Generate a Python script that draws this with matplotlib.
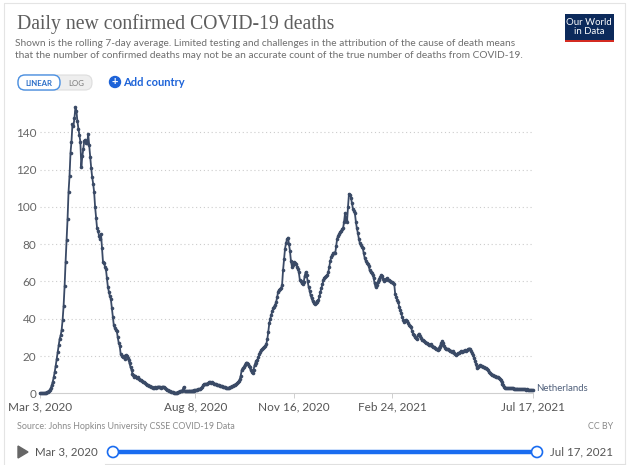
import numpy as np
import matplotlib
matplotlib.use("Agg")
import matplotlib.pyplot as plt
import matplotlib.dates as mdates
from matplotlib.patches import FancyBboxPatch, Rectangle, Circle, Polygon
import datetime as dt

plt.rcParams['font.family'] = ['Lato', 'DejaVu Sans']

# daily values, Mar 3 2020 .. Jul 17 2021 (rolling 7-day average), one row per week
deaths = [
    0, 0, 0, 0, 0.1, 0.3, 0.4,
    0.6, 0.9, 1.3, 1.9, 2.9, 4.4, 6.3,
    8.7, 11.6, 14.9, 18.6, 22.0, 26.1, 29.3,
    31.0, 34.0, 39.5, 47.0, 57.5, 70.5, 82.0,
    93.5, 108.0, 116.5, 129.0, 135.0, 144.5, 143.5,
    147.5, 153.5, 151.5, 146.0, 142.0, 138.5, 135.0,
    121.5, 127.0, 131.0, 135.5, 136.0, 134.0, 134.5,
    139.0, 133.0, 126.5, 121.0, 116.0, 112.5, 108.0,
    100.0, 94.0, 88.5, 87.0, 84.5, 82.5, 85.5,
    78.0, 70.5, 70.0, 68.0, 66.5, 62.0, 57.0,
    54.5, 52.0, 50.5, 46.0, 41.0, 36.5, 35.0,
    34.0, 33.5, 30.0, 27.0, 25.5, 21.0, 20.0,
    19.5, 19.8, 18.5, 20.5, 20.0, 19.0, 18.0,
    16.0, 14.0, 12.5, 10.5, 9.8, 9.0, 9.5,
    8.5, 8.0, 8.5, 7.5, 7.0, 7.2, 6.5,
    6.0, 5.8, 5.5, 5.0, 4.7, 4.4, 4.0,
    3.8, 3.5, 3.2, 3.0, 3.1, 3.3, 3.0,
    3.2, 3.5, 3.6, 3.4, 3.1, 3.3, 3.6,
    3.4, 3.0, 2.5, 2.0, 1.7, 1.4, 1.1,
    0.9, 0.7, 0.5, 0.4, 0.3, 0.3, 0.4,
    0.6, 0.9, 1.0, 1.1, 1.3, 2.0, 3.4,
    1.5, 1.0, 1.1, 1.3, 1.2, 1.4, 1.3,
    1.4, 1.5, 1.6, 1.5, 1.7, 1.9, 2.0,
    2.1, 2.3, 2.4, 2.8, 3.5, 4.5, 5.0,
    4.8, 5.2, 5.0, 5.5, 5.8, 6.0, 5.7,
    5.9, 5.5, 5.2, 5.0, 4.8, 4.6, 4.4,
    4.3, 4.1, 4.0, 3.8, 3.6, 3.4, 3.3,
    3.1, 3.0, 2.8, 3.0, 3.3, 3.5, 3.8,
    4.0, 4.3, 4.6, 5.0, 5.3, 5.8, 6.5,
    7.5, 9.5, 12.5, 13.5, 14.0, 15.0, 16.0,
    16.5, 15.5, 14.8, 14.0, 12.5, 11.5, 11.0,
    12.5, 15.0, 16.5, 17.5, 18.0, 19.5, 21.0,
    22.0, 23.0, 23.8, 24.5, 25.0, 25.5, 26.5,
    29.0, 33.0, 37.5, 40.0, 42.0, 44.0, 45.5,
    46.5, 47.5, 49.0, 51.5, 54.5, 55.5, 56.0,
    56.5, 58.0, 66.0, 72.0, 77.5, 80.5, 82.5,
    83.5, 80.0, 76.5, 71.0, 68.0, 69.0, 70.5,
    70.0, 69.5, 68.0, 66.5, 65.0, 61.0, 60.0,
    59.0, 58.5, 59.5, 63.0, 65.0, 63.5, 60.0,
    57.0, 55.0, 52.5, 51.0, 49.5, 48.5, 48.0,
    48.5, 49.0, 49.5, 50.0, 52.0, 54.5, 56.5,
    58.5, 60.5, 62.0, 62.5, 63.0, 63.5, 65.0,
    68.0, 71.0, 73.0, 74.0, 75.0, 75.5, 75.0,
    79.0, 83.0, 84.5, 85.5, 86.5, 87.0, 88.0,
    88.5, 92.0, 96.5, 93.0, 92.0, 100.0, 107.0,
    106.5, 105.0, 102.0, 99.0, 98.0, 96.5, 92.0,
    88.5, 86.0, 83.0, 80.5, 79.5, 78.5, 78.0,
    75.0, 72.5, 71.0, 70.0, 69.5, 68.5, 66.0,
    65.0, 64.5, 63.5, 62.0, 59.0, 57.0, 58.0,
    59.5, 60.5, 61.5, 62.5, 63.5, 63.0, 61.5,
    60.0, 60.5, 61.5, 61.8, 61.0, 60.5, 60.0,
    59.5, 59.5, 59.0, 58.5, 53.0, 51.5, 50.0,
    49.0, 46.5, 44.5, 43.0, 41.0, 39.5, 38.5,
    39.0, 39.5, 39.0, 37.5, 36.5, 36.0, 35.5,
    33.5, 32.0, 31.0, 30.0, 29.5, 29.0, 31.0,
    32.0, 30.5, 29.5, 28.5, 28.5, 28.0, 27.5,
    27.0, 27.0, 26.5, 26.0, 26.0, 26.5, 25.5,
    25.0, 25.0, 24.5, 24.0, 23.5, 23.0, 24.0,
    25.0, 26.0, 27.0, 28.0, 27.0, 25.5, 24.5,
    24.0, 23.8, 23.5, 23.0, 22.8, 22.5, 22.3,
    22.5, 21.5, 21.0, 20.5, 21.0, 21.5, 21.5,
    22.0, 22.5, 22.0, 22.5, 22.5, 23.0, 22.5,
    23.0, 23.5, 24.0, 24.0, 22.5, 21.5, 20.5,
    19.0, 17.5, 15.5, 13.5, 14.0, 14.5, 15.0,
    14.8, 14.5, 14.2, 14.0, 13.8, 13.5, 13.3,
    12.5, 11.5, 10.8, 10.3, 10.0, 9.7, 9.3,
    9.2, 9.0, 9.0, 8.5, 8.0, 7.5, 7.0,
    6.0, 5.0, 4.3, 3.6, 3.1, 2.9, 2.8,
    2.8, 2.7, 2.7, 2.6, 2.7, 2.6, 2.5,
    2.5, 2.4, 2.5, 2.3, 2.4, 2.3, 2.2,
    2.3, 2.2, 2.1, 2.2, 2.0, 2.1, 2.0,
    1.9, 1.8, 1.9, 1.8, 1.8,
]
start = dt.date(2020, 3, 3)
end = dt.date(2021, 7, 17)
dates = [start + dt.timedelta(days=i) for i in range(len(deaths))]

tick_dates = [dt.date(2020, 3, 3), dt.date(2020, 8, 8), dt.date(2020, 11, 16),
              dt.date(2021, 2, 24), dt.date(2021, 7, 17)]
tick_labels = ["Mar 3, 2020", "Aug 8, 2020", "Nov 16, 2020", "Feb 24, 2021", "Jul 17, 2021"]
y_ticks = [0, 20, 40, 60, 80, 100, 120, 140]

W, H = 630, 465
fig = plt.figure(figsize=(W / 100, H / 100), dpi=100)

# overlay in pixel coordinates for the page furniture
ui = fig.add_axes([0, 0, 1, 1])
ui.set_xlim(0, W)
ui.set_ylim(H, 0)
ui.axis('off')

# card border
ui.plot([4, 4, 625, 625], [H, 3, 3, H], color='#e4e4e4', lw=0.8)

ui.text(17, 24.5, "Daily new confirmed COVID-19 deaths", family='Liberation Serif',
        fontsize=14.2, color='#5e5e5e', va='center', ha='left')
ui.text(15, 43, "Shown is the rolling 7-day average. Limited testing and challenges in the "
        "attribution of the cause of death means", fontsize=7.3, color='#6e6e6e',
        va='center', ha='left')
ui.text(15, 55, "that the number of confirmed deaths may not be an accurate count of the "
        "true number of deaths from COVID-19.", fontsize=7.3, color='#6e6e6e',
        va='center', ha='left')

# logo
ui.add_patch(Rectangle((564.5, 14.3), 49.5, 25.5, color='#0c2a5b', lw=0))
ui.add_patch(Rectangle((564.5, 39.8), 49.5, 2.6, color='#d42b21', lw=0))
ui.text(589, 27, "Our World\nin Data", color='white', fontsize=6.9, ha='center',
        va='center', linespacing=1.05)

# linear / log toggle
ui.add_patch(FancyBboxPatch((18, 75), 74, 15, boxstyle="round,pad=0,rounding_size=7",
                            facecolor='#eeeeee', edgecolor='#dddddd', lw=0.8))
ui.add_patch(FancyBboxPatch((18, 75), 42, 15, boxstyle="round,pad=0,rounding_size=7",
                            facecolor='white', edgecolor='#4a90e2', lw=1.0))
ui.text(39, 83, "LINEAR", fontsize=5.6, color='#2c6fc8', ha='center', va='center',
        fontweight='bold')
ui.text(76, 83, "LOG", fontsize=5.6, color='#777777', ha='center', va='center')
ui.add_patch(Circle((115, 82), 5.5, color='#1d63d8'))
ui.text(115, 82, "+", fontsize=8, color='white', ha='center', va='center', fontweight='bold')
ui.text(123, 82, "Add country", fontsize=8, color='#1d63d8', ha='left', va='center',
        fontweight='bold')

# footer
ui.text(17, 426, "Source: Johns Hopkins University CSSE COVID-19 Data", fontsize=6.4,
        color='#8a8a8a', ha='left', va='center')
ui.text(613, 426, "CC BY", fontsize=6.4, color='#8a8a8a', ha='right', va='center')
ui.add_patch(Polygon([[18, 446], [18, 458], [28, 452]], color='#666666'))
ui.text(35, 452, "Mar 3, 2020", fontsize=8.3, color='#555555', ha='left', va='center')
ui.text(613, 452, "Jul 17, 2021", fontsize=8.3, color='#555555', ha='right', va='center')
ui.plot([113, 537], [452, 452], color='#1a6cf0', lw=3.2, solid_capstyle='butt')
for cx in (113, 537):
    ui.add_patch(Circle((cx, 452), 5.5, facecolor='white', edgecolor='#1a6cf0', lw=1.2,
                        zorder=5))
ui.plot([105, 625], [464, 464], color='#e0e0e0', lw=0.8)

# main chart
ax = fig.add_axes([40 / W, 1 - 393.3 / H, (533 - 40) / W, (393.3 - 100) / H])
ax.set_facecolor('none')
line_color = '#3a4a66'
ax.plot(dates, deaths, color=line_color, lw=1.3, marker='o', markersize=2.6,
        markeredgewidth=0, clip_on=False, zorder=3)
ax.annotate("Netherlands", xy=(dates[-1], deaths[-1]), xytext=(2.5, 1),
            textcoords='offset points', fontsize=6.9, color='#4f5f7a',
            va='center', ha='left', annotation_clip=False)

ax.set_xlim(start, end)
ax.set_ylim(0, 157.3)
ax.set_yticks(y_ticks)
ax.set_yticklabels([str(v) for v in y_ticks])
ax.set_xticks(tick_dates)
ax.set_xticklabels(tick_labels)

for s in ('top', 'right', 'left'):
    ax.spines[s].set_visible(False)
ax.spines['bottom'].set_color('#cfcfcf')
ax.spines['bottom'].set_linewidth(0.8)
ax.tick_params(axis='y', length=0, pad=2.5, labelsize=8.5, labelcolor='#666666')
ax.tick_params(axis='x', length=3.5, width=0.7, color='#cfcfcf', pad=2.5,
               labelsize=8.5, labelcolor='#555555')
ax.yaxis.grid(True, linestyle=(0, (1, 2.5)), color='#cccccc', lw=0.8)
ax.set_axisbelow(True)
ax.get_ygridlines()[0].set_visible(False)

plt.savefig('out.png', dpi=100)
